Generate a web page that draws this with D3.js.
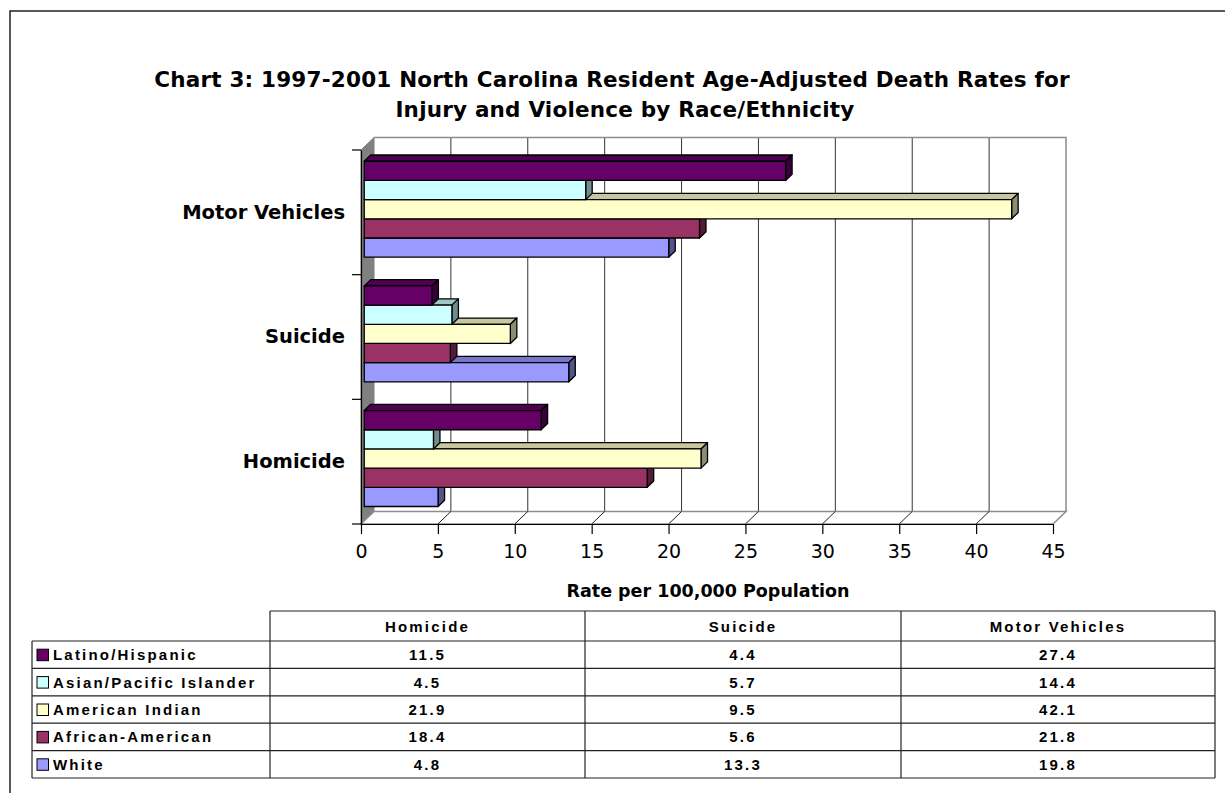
<!DOCTYPE html>
<html>
<head>
<meta charset="utf-8">
<script src="https://cdn.jsdelivr.net/npm/d3@7"></script>
<style>
  body { margin: 0; background: #fff; }
  svg { display: block; }
</style>
</head>
<body>
<svg id="chart" width="1225" height="793"></svg>
<script>
// ---- data ----
const categories = ["Homicide", "Suicide", "Motor Vehicles"];
const seriesNames = ["Latino/Hispanic", "Asian/Pacific Islander", "American Indian", "African-American", "White"];
const latinoHispanic = [11.5, 4.4, 27.4];
const asianPacific = [4.5, 5.7, 14.4];
const americanIndian = [21.9, 9.5, 42.1];
const africanAmerican = [18.4, 5.6, 21.8];
const whiteRates = [4.8, 13.3, 19.8];
const xTickValues = [0, 5, 10, 15, 20, 25, 30, 35, 40, 45];
const seriesColors = ["#660066", "#CCFFFF", "#FFFFCC", "#993366", "#9999FF"];

const seriesValues = [latinoHispanic, asianPacific, americanIndian, africanAmerican, whiteRates];
const series = seriesNames.map((name, i) => ({ name, color: seriesColors[i], values: seriesValues[i] }));

const svg = d3.select("#chart");
const headFont = "'DejaVu Sans', Verdana, sans-serif";

// ---- outer frame ----
svg.append("rect").attr("x", 10).attr("y", 11).attr("width", 1300).attr("height", 900)
  .attr("fill", "none").attr("stroke", "#222").attr("stroke-width", 1.5);

// ---- title ----
const title = svg.append("text").attr("text-anchor", "middle")
  .attr("font-family", headFont)
  .attr("font-weight", "bold").attr("font-size", 21.5).attr("letter-spacing", 0.2).attr("fill", "#000");
title.append("tspan").attr("x", 612).attr("y", 87)
  .text("Chart 3: 1997-2001 North Carolina Resident Age-Adjusted Death Rates for");
title.append("tspan").attr("x", 625).attr("y", 117)
  .text("Injury and Violence by Race/Ethnicity");

// ---- 3D geometry ----
const DX = 13, DY = -12.5;           // wall depth offset
const x = d3.scaleLinear().domain([0, 45]).range([361, 1053]);
const yTop = 150, yBottom = 524;
const yCat = d3.scaleBand()
  .domain(categories.slice().reverse())   // first category at the bottom
  .range([yTop, yBottom]).paddingInner(0).paddingOuter(0);
const ySer = d3.scaleBand().domain(seriesNames)
  .range([0, yCat.bandwidth()]).paddingInner(0).paddingOuter(0.75);

const plot = svg.append("g");

// back wall
plot.append("rect")
  .attr("x", x(0) + DX).attr("y", yTop + DY)
  .attr("width", x(45) - x(0)).attr("height", yBottom - yTop)
  .attr("fill", "#fff");

// gridlines on back wall
plot.selectAll("line.grid").data(xTickValues.slice(1, -1)).join("line")
  .attr("class", "grid")
  .attr("x1", d => x(d) + DX).attr("x2", d => x(d) + DX)
  .attr("y1", yTop + DY).attr("y2", yBottom + DY)
  .attr("stroke", "#333").attr("stroke-width", 1);

// wall top & right edges
plot.append("path")
  .attr("d", `M${x(0) + DX},${yTop + DY}H${x(45) + DX}V${yBottom + DY}`)
  .attr("fill", "none").attr("stroke", "#8c8c8c").attr("stroke-width", 1.5);

// side wall
plot.append("path")
  .attr("d", `M${x(0)},${yTop}L${x(0) + DX},${yTop + DY}L${x(0) + DX},${yBottom + DY}L${x(0)},${yBottom}Z`)
  .attr("fill", "#808080").attr("stroke", "#808080").attr("stroke-width", 1);

// floor
plot.append("path")
  .attr("d", `M${x(0)},${yBottom}L${x(45)},${yBottom}L${x(45) + DX},${yBottom + DY}L${x(0) + DX},${yBottom + DY}Z`)
  .attr("fill", "#fff").attr("stroke", "#8c8c8c").attr("stroke-width", 1.5);
plot.selectAll("line.floor").data(xTickValues.slice(1, -1)).join("line")
  .attr("class", "floor")
  .attr("x1", d => x(d)).attr("x2", d => x(d) + DX)
  .attr("y1", yBottom).attr("y2", yBottom + DY)
  .attr("stroke", "#222").attr("stroke-width", 1);

// ---- bars ----
const f0 = 0.25, f1 = 0.75;                // bars sit in the middle of the depth
const bdx = DX * (f1 - f0), bdy = DY * (f1 - f0);
const bars = [];
categories.forEach((cat, ci) => {
  series.slice().reverse().forEach(s => {
    const v = s.values[ci];
    const x0 = x(0) + DX * f0, x1 = x(v) + DX * f0;
    const y0 = yCat(cat) + ySer(s.name) + DY * f0, h = ySer.bandwidth();
    bars.push({ x0, x1, y0, h, color: s.color });
  });
});

const scale = (c, k) => { const r = d3.rgb(c); return d3.rgb(r.r * k, r.g * k, r.b * k).formatHex(); };
const barG = plot.selectAll("g.bar").data(bars).join("g").attr("class", "bar")
  .attr("stroke", "#000").attr("stroke-width", 1.3).attr("stroke-linejoin", "round");
barG.append("path")
  .attr("d", d => `M${d.x0},${d.y0}L${d.x1},${d.y0}L${d.x1 + bdx},${d.y0 + bdy}L${d.x0 + bdx},${d.y0 + bdy}Z`)
  .attr("fill", d => scale(d.color, 0.78));
barG.append("path")
  .attr("d", d => `M${d.x1},${d.y0}L${d.x1 + bdx},${d.y0 + bdy}L${d.x1 + bdx},${d.y0 + d.h + bdy}L${d.x1},${d.y0 + d.h}Z`)
  .attr("fill", d => scale(d.color, 0.55));
barG.append("rect")
  .attr("x", d => d.x0).attr("y", d => d.y0)
  .attr("width", d => d.x1 - d.x0).attr("height", d => d.h)
  .attr("fill", d => d.color);

// ---- axes ----
const xAxis = svg.append("g").attr("transform", `translate(0,${yBottom})`)
  .call(d3.axisBottom(x).tickValues(xTickValues).tickSize(10).tickSizeOuter(0).tickPadding(11));
xAxis.select(".domain").attr("stroke", "#000").attr("stroke-width", 1.2);
xAxis.selectAll(".tick line").attr("stroke", "#000").attr("stroke-width", 1.2);
xAxis.selectAll(".tick text")
  .attr("font-family", headFont).attr("font-size", 19).attr("fill", "#000");

const yAxis = svg.append("g").attr("transform", `translate(${x(0)},0)`)
  .call(d3.axisLeft(yCat).tickSize(0).tickPadding(16));
yAxis.select(".domain").attr("stroke", "#000").attr("stroke-width", 1.2);
yAxis.selectAll(".tick text")
  .attr("font-family", headFont)
  .attr("font-weight", "bold").attr("font-size", 19.5).attr("fill", "#000");
// tick marks on band boundaries
const bounds = yCat.domain().map(c => yCat(c)).concat([yBottom]);
yAxis.selectAll("line.bound").data(bounds).join("line").attr("class", "bound")
  .attr("x1", -9).attr("x2", 0).attr("y1", d => d).attr("y2", d => d)
  .attr("stroke", "#000").attr("stroke-width", 1.2);

svg.append("text").attr("x", 708).attr("y", 597).attr("text-anchor", "middle")
  .attr("font-family", headFont)
  .attr("font-weight", "bold").attr("font-size", 17.5).text("Rate per 100,000 Population");

// ---- data table ----
const colX = [32, 270, 585, 901, 1215];
const headTop = 611, headBottom = 641, tableBottom = 778;
const rowH = (tableBottom - headBottom) / series.length;
const tbl = svg.append("g").attr("stroke", "#222").attr("stroke-width", 1.2);
tbl.append("line").attr("x1", colX[1]).attr("x2", colX[4]).attr("y1", headTop).attr("y2", headTop);
d3.range(series.length + 1).forEach(i => {
  const y = headBottom + i * rowH;
  tbl.append("line").attr("x1", colX[0]).attr("x2", colX[4]).attr("y1", y).attr("y2", y);
});
tbl.append("line").attr("x1", colX[0]).attr("x2", colX[0]).attr("y1", headBottom).attr("y2", tableBottom);
colX.slice(1).forEach(cx => {
  tbl.append("line").attr("x1", cx).attr("x2", cx).attr("y1", headTop).attr("y2", tableBottom);
});

const tableFont = "'Liberation Sans', Arial, sans-serif";
const cellText = sel => sel.attr("font-family", tableFont).attr("font-weight", "bold")
  .attr("font-size", 15).attr("letter-spacing", 2.2).attr("fill", "#000");

categories.forEach((c, ci) => {
  svg.append("text").call(cellText)
    .attr("x", (colX[ci + 1] + colX[ci + 2]) / 2).attr("y", (headTop + headBottom) / 2 + 5.5)
    .attr("text-anchor", "middle").text(c);
});
series.forEach((s, si) => {
  const cy = headBottom + si * rowH + rowH / 2;
  svg.append("rect").attr("x", 37).attr("y", cy - 5.5).attr("width", 11.5).attr("height", 11.5)
    .attr("fill", s.color).attr("stroke", "#000").attr("stroke-width", 1);
  svg.append("text").call(cellText).attr("x", 53).attr("y", cy + 5.5).text(s.name);
  s.values.forEach((v, ci) => {
    svg.append("text").call(cellText)
      .attr("x", (colX[ci + 1] + colX[ci + 2]) / 2).attr("y", cy + 5.5)
      .attr("text-anchor", "middle").text(v.toFixed(1));
  });
});
</script>
</body>
</html>
